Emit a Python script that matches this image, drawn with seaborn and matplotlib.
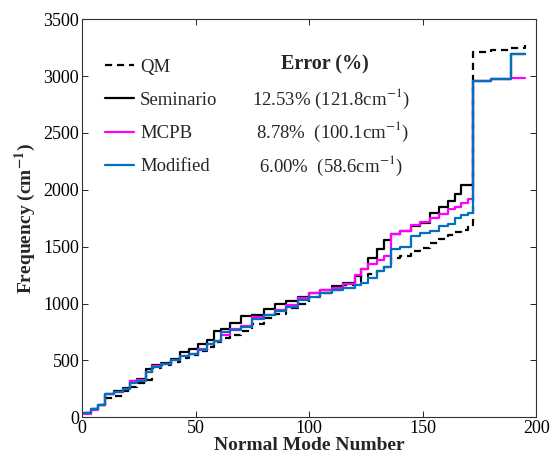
import matplotlib
matplotlib.use("Agg")
import matplotlib.pyplot as plt
import pandas as pd
import seaborn as sns

# Normal mode number where each step starts (values hold until the next one)
modes = [1, 4, 7, 10, 14, 18, 21, 24, 28, 31, 35, 39, 43, 47, 51, 55, 58, 61,
         65, 70, 75, 80, 85, 90, 95, 100, 105, 110, 115, 120, 123, 126, 130,
         133, 136, 140, 145, 149, 153, 157, 161, 164, 167, 170, 172, 180, 189, 195]

qm_freq = [40, 70, 110, 170, 185, 230, 270, 300, 330, 430, 460, 490, 520, 550,
           580, 620, 660, 700, 720, 760, 820, 870, 910, 960, 1000, 1060, 1090,
           1120, 1160, 1200, 1240, 1260, 1290, 1320, 1400, 1420, 1460, 1490,
           1530, 1570, 1600, 1630, 1650, 1690, 3210, 3230, 3250, 3270]
seminario_freq = [40, 70, 110, 200, 230, 260, 320, 340, 420, 460, 480, 510, 570,
                  600, 640, 680, 760, 780, 830, 890, 900, 950, 1000, 1020, 1060,
                  1090, 1120, 1150, 1180, 1240, 1300, 1400, 1480, 1560, 1610,
                  1640, 1680, 1710, 1800, 1850, 1900, 1960, 2040, 2040, 2960,
                  2970, 3190, 3190]
mcpb_freq = [30, 60, 110, 200, 220, 250, 320, 330, 400, 450, 470, 500, 540, 560,
             600, 640, 670, 720, 780, 800, 880, 900, 940, 990, 1050, 1090, 1120,
             1140, 1170, 1250, 1300, 1350, 1380, 1420, 1610, 1640, 1690, 1720,
             1750, 1790, 1830, 1850, 1880, 1920, 2960, 2970, 2980, 2980]
modified_freq = [40, 70, 110, 200, 220, 250, 300, 320, 400, 440, 470, 500, 540,
                 560, 590, 640, 670, 750, 770, 790, 860, 900, 930, 970, 1030,
                 1060, 1090, 1120, 1140, 1160, 1180, 1220, 1290, 1320, 1480,
                 1500, 1590, 1620, 1640, 1680, 1700, 1750, 1780, 1800, 2960,
                 2970, 3190, 3190]

series_names = ["QM", "Seminario", "MCPB", "Modified"]
error_labels = ["12.53% (121.8cm$^{-1}$)",
                "8.78%  (100.1cm$^{-1}$)",
                "6.00%  (58.6cm$^{-1}$)"]

sns.set_theme(style="ticks")
plt.rcParams["font.family"] = ["Liberation Serif", "DejaVu Serif"]
plt.rcParams["mathtext.fontset"] = "stix"

fig = plt.figure(figsize=(5.54, 4.57), dpi=100)
ax = fig.add_axes([0.148, 0.087, 0.82, 0.871])

styles = {
    "QM": dict(color="black", linestyle=(0, (3.2, 2.2))),
    "Seminario": dict(color="black", linestyle="-"),
    "MCPB": dict(color="#FF00FF", linestyle="-"),
    "Modified": dict(color="#0072BD", linestyle="-"),
}
values = [qm_freq, seminario_freq, mcpb_freq, modified_freq]

for name, freq in zip(series_names, values):
    df = pd.DataFrame({"mode": modes, "freq": freq})
    sns.lineplot(data=df, x="mode", y="freq", ax=ax, drawstyle="steps-post",
                 linewidth=1.6, label=name, **styles[name])

ax.set_xlim(0, 200)
ax.set_ylim(0, 3500)
ax.set_xticks(range(0, 201, 50))
ax.set_yticks(range(0, 3501, 500))
ax.tick_params(direction="in", top=True, right=True, labelsize=13,
               length=4, width=0.6, pad=2, colors="black")
for sp in ax.spines.values():
    sp.set_linewidth(0.8)
    sp.set_color("#333333")

ax.set_xlabel("Normal Mode Number", fontsize=14, fontweight="bold", labelpad=0)
ax.set_ylabel("Frequency (cm$^{\\mathbf{-1}}$)", fontsize=14,
              fontweight="bold", labelpad=4)

leg = ax.legend(loc="upper left", bbox_to_anchor=(0.035, 0.92), frameon=False,
                fontsize=13.5, handlelength=1.55, handletextpad=0.3,
                labelspacing=0.86, borderaxespad=0)

ax.text(0.535, 0.887, "Error (%)", transform=ax.transAxes, fontsize=14.5,
        fontweight="bold", ha="center", va="center")
err_x = [0.375, 0.383, 0.389]
err_y = [0.80, 0.716, 0.632]
for x, y, lab in zip(err_x, err_y, error_labels):
    ax.text(x, y, lab, transform=ax.transAxes, fontsize=13.5, ha="left",
            va="center")

fig.savefig("out.png", dpi=100)
plt.close(fig)
